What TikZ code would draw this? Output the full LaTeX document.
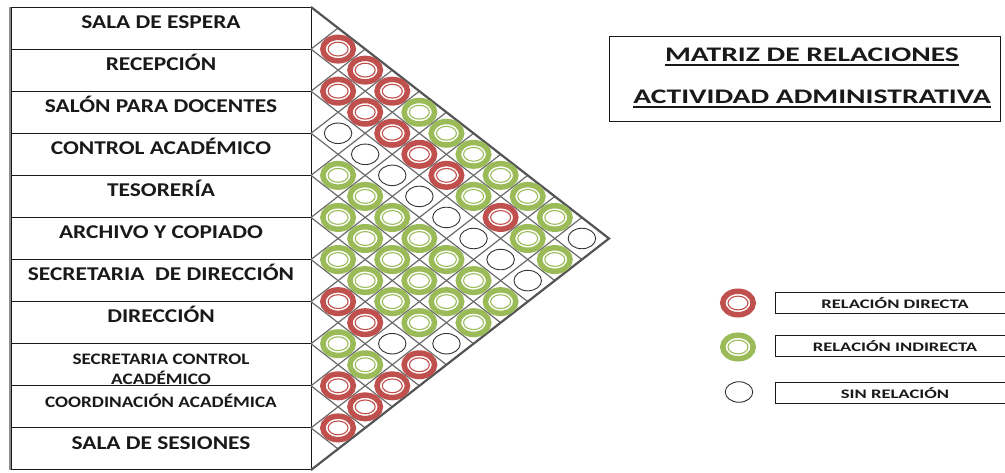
\documentclass[tikz,border=0pt]{standalone}
\usepackage{fontspec}
\setmainfont{Carlito}[FakeStretch=1.2]
\newfontfamily\titulofont{Carlito}[FakeStretch=1.43]
\usetikzlibrary{shapes.geometric,positioning}
\definecolor{rojo}{HTML}{C0504D}
\definecolor{verde}{HTML}{9BBB59}
\definecolor{rejilla}{HTML}{6A6A6A}
\def\alto{42.09}
\def\paso{27.09}
\tikzstyle{fila}=[draw=black!90,line width=1pt,minimum width=300pt,minimum height=42.09pt,inner sep=0pt,outer sep=0pt]
\tikzstyle{etiqueta}=[font=\fontsize{19.5}{23}\selectfont\bfseries,inner sep=0pt,text height=12.6pt,text depth=0pt,text=black!90]
\tikzstyle{chica}=[etiqueta,font=\fontsize{16}{19.5}\selectfont\bfseries,text height=10.3pt]
\tikzstyle{titulo}=[font=\titulofont\bfseries\fontsize{20.7}{24}\selectfont,inner sep=0pt,text height=13.3pt,text depth=0pt,text=black!90]
\tikzstyle{caja}=[draw=black!90,line width=1pt,minimum width=240pt,minimum height=21pt,inner sep=0pt,font=\titulofont\bfseries\fontsize{13}{15}\selectfont,text height=12.4pt,text depth=0pt,text=black!90]
\tikzstyle{nada}=[ellipse,draw=black!80,line width=0.9pt,fill=white,minimum width=27.5pt,minimum height=20.5pt,inner sep=0pt]
\tikzset{anillo/.style={ellipse,draw=#1,fill=white,line width=5.5pt,minimum width=30.5pt,minimum height=23.5pt,inner sep=0pt,
    path picture={\draw[#1,line width=1.1pt] (path picture bounding box.center) ellipse (10pt and 6.9pt);}},
  dir/.style={anillo=rojo}, ind/.style={anillo=verde}}

\begin{document}
\begin{tikzpicture}[x=1pt,y=-1pt]
\useasboundingbox (0,0) rectangle (1005,472);
% filas de ambientes
\foreach \i in {1,...,11}
  \node[fila] (r\i) at (161,{7+(\i-0.5)*\alto}) {};
\draw[black!45,line width=2pt] ([xshift=-1.5pt]r1.north west) -- ([xshift=-1.5pt]r11.south west);
\node[etiqueta] (l1) at ([yshift=6pt]r1.center) {SALA DE ESPERA};
\node[etiqueta] (l2) at ([yshift=6pt]r2.center) {RECEPCIÓN};
\node[etiqueta] (l3) at ([yshift=6pt]r3.center) {SALÓN PARA DOCENTES};
\node[etiqueta] (l4) at ([yshift=6pt]r4.center) {CONTROL ACADÉMICO};
\node[etiqueta] (l5) at ([yshift=6pt]r5.center) {TESORERÍA};
\node[etiqueta] (l6) at ([yshift=6pt]r6.center) {ARCHIVO Y COPIADO};
\node[etiqueta] (l7) at ([yshift=6pt]r7.center) {SECRETARIA\ \ DE DIRECCIÓN};
\node[etiqueta] (l8) at ([yshift=6pt]r8.center) {DIRECCIÓN};
\node[chica,align=center,text height={},text depth={}] (l9) at ([yshift=-4.75pt]r9.center) {SECRETARIA CONTROL\\ACADÉMICO};
\node[chica] (l10) at ([yshift=5pt]r10.center) {COORDINACIÓN ACADÉMICA};
\node[etiqueta] (l11) at ([yshift=6pt]r11.center) {SALA DE SESIONES};

% rejilla de la matriz
\coordinate (vertice) at ({311+11*\paso},{7+5.5*\alto});
\foreach \m in {0,...,11}{
  \draw[rejilla,line width=1.2pt] (311,{7+\m*\alto}) -- ++({(11-\m)*\paso},{(11-\m)*\alto/2});
  \draw[rejilla,line width=1.2pt] (311,{7+\m*\alto}) -- ++({\m*\paso},{-\m*\alto/2});
}
\draw[rejilla!80!black,line width=2.2pt] (r1.north east) -- (vertice) -- (r11.south east);

% relaciones
\foreach \i/\lista in {1/{dir,dir,dir,ind,ind,ind,ind,ind,ind,nada},
    2/{dir,dir,dir,dir,dir,ind,dir,ind,ind},
    3/{nada,nada,nada,nada,nada,nada,nada,nada},
    4/{ind,ind,ind,ind,ind,ind,ind},
    5/{ind,ind,ind,ind,ind,ind},
    6/{ind,ind,ind,ind,nada},
    7/{dir,dir,nada,dir},
    8/{ind,ind,dir},
    9/{dir,dir},
    10/{dir}}
  \foreach \tipo [count=\k] in \lista
    \node[\tipo] (c\i-\k) at ({311+\k*\paso},{7+(2*\i+\k-1)*\alto/2}) {};

% titulo
\node[draw=black!90,line width=1pt,minimum width=391pt,minimum height=85pt,inner sep=0pt] (marco) at (804.5,78.5) {};
\node[titulo] (t1) at (812,55) {MATRIZ DE RELACIONES};
\node[titulo] (t2) at (812,97) {ACTIVIDAD ADMINISTRATIVA};
\draw[black!90,line width=1.3pt] ([yshift=-3pt]t1.south west) -- ([yshift=-3pt]t1.south east);
\draw[black!90,line width=1.3pt] ([yshift=-3pt]t2.south west) -- ([yshift=-3pt]t2.south east);

% leyenda
\node[dir] (ld) at (738,303) {};
\node[ind] (li) at (738,347) {};
\node[nada] (ls) at (739,392) {};
\node[caja] (cd) at (895,302.5) {RELACIÓN DIRECTA};
\node[caja] (ci) at (895,345.5) {RELACIÓN INDIRECTA};
\node[caja] (cs) at (895,392.5) {SIN RELACIÓN};
\end{tikzpicture}
\end{document}
